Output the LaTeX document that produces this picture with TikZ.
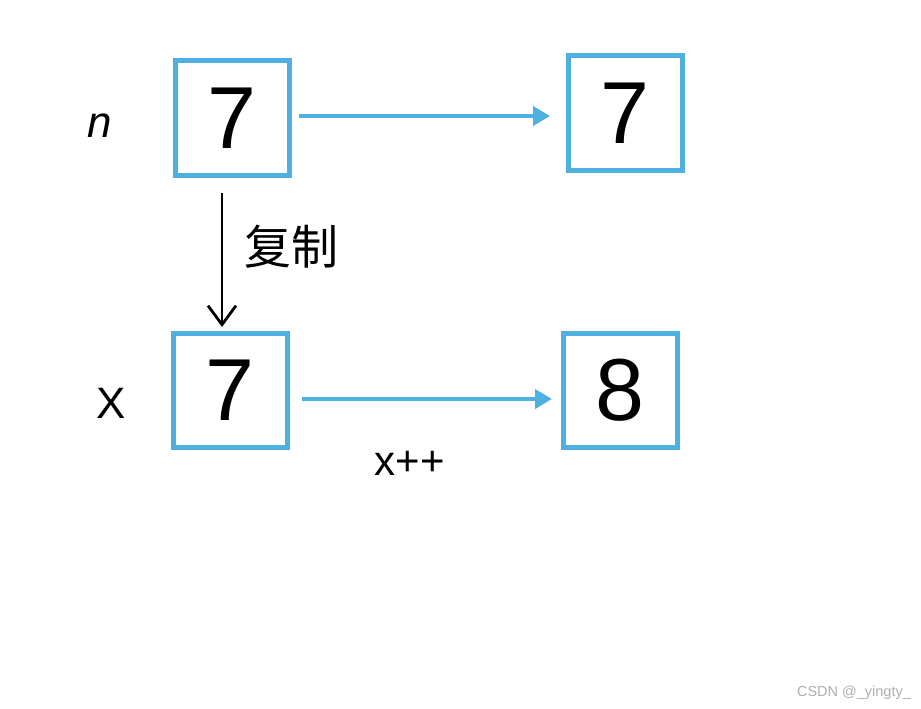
\documentclass[tikz,border=0pt]{standalone}
\usepackage{fontspec}
\setmainfont{Liberation Sans}
\newfontfamily\cjk{Noto Sans CJK SC}
\usetikzlibrary{arrows.meta}
\definecolor{boxblue}{RGB}{78,176,224}
\definecolor{wmgray}{RGB}{175,175,175}
\tikzset{
  valbox/.style={draw=boxblue, line width=5pt, minimum size=114pt, inner sep=0pt, font=\fontsize{88}{88}\selectfont, fill=white},
  bluearrow/.style={draw=boxblue, line width=4pt, -{Triangle[length=17pt,width=19pt]}},
  copyarrow/.style={draw=black, line width=2.8pt, -{Straight Barb[length=19pt,width=28pt,line width=2.8pt]}},
  handlabel/.style={font=\fontsize{44}{44}\selectfont, inner sep=0pt}
}
\begin{document}
\begin{tikzpicture}[x=1pt,y=-1pt]
\useasboundingbox[fill=white] (0,0) rectangle (921,709);
\node[valbox] (n1) at (232,118) {7};
\node[valbox] (n2) at (625,113) {7};
\node[valbox] (x1) at (230,390) {7};
\node[valbox] (x2) at (620,390) {8};
\node[handlabel] (nl) at (100,126) {\itshape n};
\node[handlabel] (xl) at (111,403) {X};
\node[font=\cjk\fontsize{47}{47}\selectfont, inner sep=0pt] (cp) at (291,247) {复制};
\node[font=\fontsize{42}{42}\selectfont, inner sep=0pt] (xpp) at (410,463) {x++};
\coordinate (a1s) at (299,116);
\coordinate (a1e) at (550,116);
\coordinate (a2s) at (302,399);
\coordinate (a2e) at (552,399);
\draw[bluearrow] (a1s) -- (a1e);
\draw[bluearrow] (a2s) -- (a2e);
\coordinate (cs) at (222,193);
\coordinate (ce) at (222,327);
\draw[copyarrow] (cs) -- (ce);
\node[font=\fontsize{14.5}{14.5}\selectfont, text=wmgray, inner sep=0pt] (wm) at (854,693) {CSDN @\_yingty\_};
\end{tikzpicture}
\end{document}
